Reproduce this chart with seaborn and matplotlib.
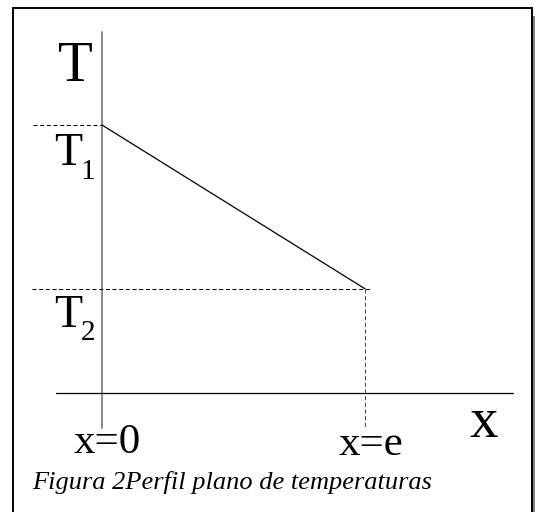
import numpy as np
import pandas as pd
import matplotlib
matplotlib.use("Agg")
import matplotlib.pyplot as plt
from matplotlib.patches import Rectangle
import seaborn as sns

# datos del perfil (x=0 -> T1, x=e -> T2)
posiciones = [0.0, 1.0]
temperaturas = [90.0, 35.0]
etiquetas_x = ["x=0", "x=e"]
etiquetas_T = ["1", "2"]
titulo_eje_y = "T"
titulo_eje_x = "x"
pie = "Figura 2Perfil plano de temperaturas"

perfil = pd.DataFrame({"x": posiciones, "T": temperaturas})

sns.set_theme(style="white")
plt.rcParams["font.family"] = ["Liberation Serif", "DejaVu Serif"]
plt.rcParams["text.color"] = "black"
plt.rcParams["lines.scale_dashes"] = False

W, H = 535, 512
fig = plt.figure(figsize=(W / 100, H / 100), dpi=100)
fig.patch.set_facecolor("white")

# escala: pixel del origen y pixeles por unidad
x0_px, xe_px = 102, 365
y0_px, y1_px = 393, 125
esc_x = (xe_px - x0_px) / (posiciones[1] - posiciones[0])
esc_y = (y0_px - y1_px) / temperaturas[0]

def dx(px):
    return (px - x0_px) / esc_x

def dy(py):
    return (y0_px - py) / esc_y

def fx(px):
    return px / W

def fy(py):
    return 1 - py / H

ax = fig.add_axes([0, 0, 1, 1])
ax.set_xlim(dx(0), dx(W))
ax.set_ylim(dy(H), dy(0))
ax.set_axis_off()

# marco con sombra
fig.add_artist(Rectangle((fx(532), fy(H + 5)), 3 / W, (H + 5 - 16) / H,
                         transform=fig.transFigure, facecolor="#808080",
                         edgecolor="none"))
fig.add_artist(Rectangle((fx(12.5), fy(H + 5)), (531.5 - 12.5) / W, (H + 5 - 8) / H,
                         transform=fig.transFigure, facecolor="none",
                         edgecolor="black", linewidth=1.4))

# ejes
ax.plot([posiciones[0], posiciones[0]], [dy(428), dy(32)], color="#808080", lw=1.3)
ax.plot([dx(56), dx(513)], [0, 0], color="black", lw=0.9)

# lineas auxiliares
guion = (0, (2.9, 1.9))
ax.plot([dx(33), posiciones[0]], [temperaturas[0]] * 2, color="black", lw=0.75, ls=guion)
ax.plot([dx(32), dx(370)], [temperaturas[1]] * 2, color="black", lw=0.75, ls=guion)
ax.plot([posiciones[1]] * 2, [temperaturas[1], dy(428)], color="#444444", lw=0.75, ls=guion)

# perfil de temperatura
sns.lineplot(data=perfil, x="x", y="T", color="black", lw=0.9, ax=ax)

# textos
negro = "black"
fig.text(fx(75), fy(81), titulo_eje_y, fontsize=41, ha="center", va="baseline", color=negro)
fig.text(fx(484), fy(437), titulo_eje_x, fontsize=41, ha="center", va="baseline", color=negro)
for py_base, py_sub, sub in [(165, 179, etiquetas_T[0]), (327, 340, etiquetas_T[1])]:
    fig.text(fx(68), fy(py_base), "T", fontsize=33, ha="center", va="baseline", color=negro)
    fig.text(fx(88), fy(py_sub), sub, fontsize=21, ha="center", va="baseline", color=negro)
fig.text(fx(107), fy(453), etiquetas_x[0], fontsize=31, ha="center", va="baseline", color=negro)
fig.text(fx(371), fy(455), etiquetas_x[1], fontsize=31, ha="center", va="baseline", color=negro)
fig.text(fx(32), fy(489), pie, fontsize=19, style="italic", ha="left", va="baseline", color=negro)

fig.savefig("out.png", dpi=100)
